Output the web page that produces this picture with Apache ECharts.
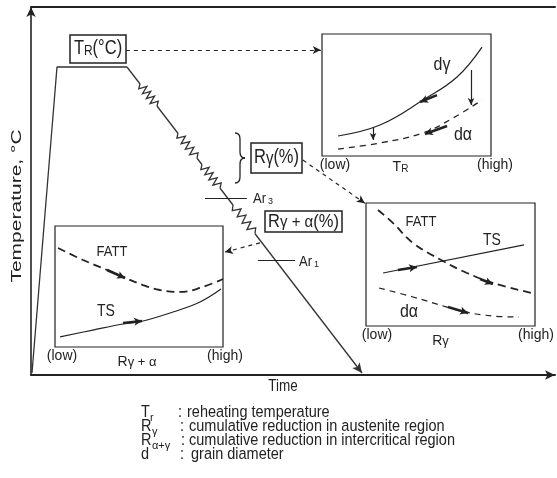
<!DOCTYPE html>
<html><head><meta charset="utf-8">
<script src="https://cdn.jsdelivr.net/npm/echarts@6/dist/echarts.min.js"></script>
<style>html,body{margin:0;padding:0;background:#fff}#c{width:557px;height:478px}</style>
</head><body><div id="c"></div>
<script>
// ---- main process diagram (time %, temperature %) ----
const heatPath = [[0.19, 0.54], [4.96, 83.7], [18.32, 83.7]];
const coolStart = [18.32, 83.7];
const coolEnd = [63.17, 0.54];
const passes = [
  [20.80, 79.08, 24.05, 73.10],
  [28.05, 65.76, 31.68, 58.97],
  [32.63, 57.20, 36.07, 50.82],
  [38.55, 46.20, 42.75, 38.45]
];
const ar3Line = [[33.2, 48.1], [41.2, 48.1]];
const ar1Line = [[43.3, 31.25], [50.4, 31.25]];
const connTR = [[18.1, 88.3], [55.3, 88.3]];
const connRg = [[51.9, 58.4], [63.7, 46.7]];
const connRga = [[43.7, 35.9], [37.0, 33.4]];

// ---- inset 1: grain size vs reheating temperature ----
const dGamma = [[0.95, 1.64], [3.43, 2.54], [5.98, 4.59], [7.99, 6.48], [9.47, 8.93]];
const dAlphaTR = [[0.95, 0.57], [3.43, 1.07], [5.98, 1.89], [7.75, 3.11], [9.47, 4.59]];
const inset1Arrows = [[[6.80, 4.99], [5.80, 4.43]], [[7.40, 2.46], [6.09, 1.80]]];
const inset1Drops = [[[8.82, 7.05], [8.82, 4.18]], [[3.02, 2.38], [3.02, 1.31]]];

// ---- inset 2: vs R gamma ----
const fattRg = [[0.71, 9.43], [1.60, 8.37], [2.78, 6.75], [4.56, 5.28], [5.98, 4.31], [7.51, 3.50], [9.82, 2.68]];
const tsRg = [[1.01, 4.31], [9.35, 6.59]];
const dAlphaRg = [[0.77, 3.09], [2.78, 2.36], [4.79, 1.54], [5.86, 1.14], [7.51, 0.81], [9.05, 0.73]];
const inset2Arrows = [[[1.89, 4.55], [3.02, 4.80]], [[6.75, 3.82], [7.51, 3.41]], [[4.85, 1.54], [6.04, 1.06]]];

// ---- inset 3: vs R gamma+alpha ----
const fattRga = [[0.18, 8.18], [1.67, 7.19], [3.10, 6.36], [4.05, 5.79], [5.24, 5.12], [6.25, 4.71], [7.44, 4.55], [8.63, 4.88], [10.0, 5.62]];
const tsRga = [[0.30, 0.83], [2.26, 1.40], [4.05, 1.90], [5.24, 2.15], [7.02, 2.89], [8.63, 3.72], [9.88, 4.79]];
const inset3Arrows = [[[3.10, 6.36], [4.17, 5.70]], [[4.05, 1.98], [5.18, 2.15]]];

const axisEnds = ['(low)', '(high)'];

const INK = '#222';
const FONT = 'Liberation Sans, Arial, Helvetica, sans-serif';

function seg(p1, p2, style, arrow, size) {
  return [
    { coord: p1, symbol: 'none', lineStyle: style },
    { coord: p2, symbol: arrow ? 'arrow' : 'none', symbolSize: size || [7, 9] }
  ];
}
const thick = { color: INK, width: 2.6, type: 'solid' };
const thin = { color: INK, width: 1.2, type: 'solid' };
const dashed = { color: INK, width: 1.2, type: [4, 4] };

function insetX(grid, lowPad, highPad, name, rich, nameGap, namePadR) {
  return {
    gridIndex: grid, type: 'value', min: 0, max: 10, interval: 10,
    axisLine: { show: false }, axisTick: { show: false }, splitLine: { show: false },
    axisLabel: {
      margin: 2, color: INK, fontFamily: FONT, fontSize: 14,
      formatter: v => v === 0 ? '{lo|' + axisEnds[0] + '}' : '{hi|' + axisEnds[1] + '}',
      rich: { lo: { padding: [0, 0, 0, lowPad], fontSize: 14, fontFamily: FONT, color: INK },
              hi: { padding: [0, 0, 0, highPad], fontSize: 14, fontFamily: FONT, color: INK } }
    },
    name: name, nameLocation: 'middle', nameGap: nameGap, nameMoveOverlap: false,
    nameTextStyle: { rich: rich, padding: [0, namePadR, 0, 0] }
  };
}
function insetY(grid) {
  return { gridIndex: grid, type: 'value', min: 0, max: 10, show: false };
}
const nameRich = {
  a: { fontSize: 14, fontFamily: FONT, color: INK, verticalAlign: 'bottom' },
  s: { fontSize: 10, fontFamily: FONT, color: INK, verticalAlign: 'bottom' },
  g: { fontSize: 13, fontFamily: FONT, color: INK, verticalAlign: 'bottom' }
};

function txt(x, y, text, size, align, sy) {
  return {
    type: 'text', x: x, y: y, z: 50, scaleY: sy || 1,
    style: { text: text, font: size + 'px ' + FONT, fill: INK,
             textAlign: align || 'center', textVerticalAlign: 'middle' }
  };
}
function richTxt(x, y, text, rich, sy) {
  return { type: 'text', x: x, y: y, z: 50, scaleY: sy || 1,
    style: { text: text, rich: rich, fill: INK, font: '15px ' + FONT,
             textAlign: 'center', textVerticalAlign: 'middle' } };
}
function bez(x1, y1, c1x, c1y, c2x, c2y, x2, y2) {
  return { type: 'bezierCurve', z: 40, shape: { x1: x1, y1: y1, cpx1: c1x, cpy1: c1y, cpx2: c2x, cpy2: c2y, x2: x2, y2: y2 },
    style: { stroke: INK, lineWidth: 1.3, fill: null } };
}
function ln(x1, y1, x2, y2) {
  return { type: 'line', z: 40, shape: { x1: x1, y1: y1, x2: x2, y2: y2 }, style: { stroke: INK, lineWidth: 1.3 } };
}
const boxRich = {
  a: { fontSize: 16.5, fontFamily: FONT, color: INK, verticalAlign: 'bottom' },
  b: { fontSize: 12, fontFamily: FONT, color: INK, verticalAlign: 'bottom', padding: [0, 0, 1, 0] },
  g: { fontSize: 15, fontFamily: FONT, color: INK, verticalAlign: 'bottom' }
};
const LS = 1.1; // vertical stretch of the legend text

const option = {
  animation: false,
  backgroundColor: '#fff',
  grid: [
    { left: 31, top: 7, width: 524, height: 368 },
    { left: 322, top: 34, width: 169, height: 122, show: true, borderColor: INK, borderWidth: 1.2, backgroundColor: 'transparent', z: 3 },
    { left: 366, top: 203, width: 169, height: 123, show: true, borderColor: INK, borderWidth: 1.2, backgroundColor: 'transparent', z: 3 },
    { left: 55, top: 226, width: 168, height: 121, show: true, borderColor: INK, borderWidth: 1.2, backgroundColor: 'transparent', z: 3 }
  ],
  xAxis: [
    { gridIndex: 0, type: 'value', min: 0, max: 100, position: 'bottom',
      axisLine: { show: true, onZero: false, symbol: ['none', 'arrow'], symbolSize: [7, 10], lineStyle: { color: INK, width: 2 } },
      axisTick: { show: false }, axisLabel: { show: false }, splitLine: { show: false } },
    { gridIndex: 0, type: 'value', min: 0, max: 100, position: 'top',
      axisLine: { show: true, onZero: false, lineStyle: { color: INK, width: 2 } },
      axisTick: { show: false }, axisLabel: { show: false }, splitLine: { show: false } },
    insetX(1, 26, 8, '{a|T}{s|R}', nameRich, 4, 12),
    insetX(2, 22, 2, '{a|R}{g|γ}', nameRich, 8, 20),
    insetX(3, 14, 4, '{a|R}{g|γ + α}', nameRich, 8, 4)
  ],
  yAxis: [
    { gridIndex: 0, type: 'value', min: 0, max: 100,
      axisLine: { show: true, onZero: false, symbol: ['none', 'arrow'], symbolSize: [7, 10], lineStyle: { color: INK, width: 1.6 } },
      axisTick: { show: false }, axisLabel: { show: false }, splitLine: { show: false } },
    insetY(1), insetY(2), insetY(3)
  ],
  series: [
    { type: 'line', xAxisIndex: 0, yAxisIndex: 0, data: heatPath, symbol: 'none', z: 5,
      lineStyle: { color: '#333', width: 1.3 },
      markLine: { silent: true, animation: false, label: { show: false }, symbol: ['none', 'none'],
        data: [
          seg(coolStart, coolEnd, { color: '#333', width: 1.3, type: 'solid' }, true, [7, 10]),
          seg(ar3Line[0], ar3Line[1], thin, false),
          seg(ar1Line[0], ar1Line[1], thin, false),
          seg(connTR[0], connTR[1], dashed, true, [6, 8]),
          seg(connRg[0], connRg[1], dashed, true, [6, 8]),
          seg(connRga[0], connRga[1], dashed, true, [6, 8])
        ] } },
    { type: 'custom', xAxisIndex: 0, yAxisIndex: 0, data: passes, z: 10, silent: true,
      encode: { x: [0, 2], y: [1, 3] },
      renderItem: function (params, api) {
        const a = api.coord([api.value(0), api.value(1)]);
        const b = api.coord([api.value(2), api.value(3)]);
        const dx = b[0] - a[0], dy = b[1] - a[1];
        const L = Math.hypot(dx, dy);
        const px = -dy / L, py = dx / L;
        const n = 9, amp = 4;
        const pts = [];
        for (let j = 0; j <= n; j++) {
          const f = j / n;
          const off = (j === 0 || j === n) ? 0 : ((j % 2) ? amp : -amp);
          pts.push([a[0] + dx * f + px * off, a[1] + dy * f + py * off]);
        }
        return { type: 'group', children: [
          { type: 'line', shape: { x1: a[0], y1: a[1], x2: b[0], y2: b[1] }, style: { stroke: '#fff', lineWidth: 4 } },
          { type: 'polyline', shape: { points: pts }, style: { stroke: '#333', lineWidth: 1.3, fill: null } }
        ] };
      } },
    // inset 1
    { type: 'line', xAxisIndex: 2, yAxisIndex: 1, data: dGamma, smooth: 0.4, symbol: 'none', z: 5,
      lineStyle: { color: INK, width: 1.2 },
      markLine: { silent: true, label: { show: false }, symbol: ['none', 'none'],
        data: [
          seg(inset1Arrows[0][0], inset1Arrows[0][1], thick, true, [6, 8]),
          seg(inset1Arrows[1][0], inset1Arrows[1][1], thick, true, [6, 8]),
          seg(inset1Drops[0][0], inset1Drops[0][1], thin, true, [5, 7]),
          seg(inset1Drops[1][0], inset1Drops[1][1], thin, true, [5, 7])
        ] } },
    { type: 'line', xAxisIndex: 2, yAxisIndex: 1, data: dAlphaTR, smooth: 0.4, symbol: 'none', z: 5,
      lineStyle: { color: INK, width: 1.3, type: [6, 5] } },
    // inset 2
    { type: 'line', xAxisIndex: 3, yAxisIndex: 2, data: fattRg, smooth: 0.4, symbol: 'none', z: 5,
      lineStyle: { color: INK, width: 1.8, type: [8, 5] },
      markLine: { silent: true, label: { show: false }, symbol: ['none', 'none'],
        data: inset2Arrows.map(p => seg(p[0], p[1], thick, true, [6, 8])) } },
    { type: 'line', xAxisIndex: 3, yAxisIndex: 2, data: tsRg, symbol: 'none', z: 5,
      lineStyle: { color: INK, width: 1.2 } },
    { type: 'line', xAxisIndex: 3, yAxisIndex: 2, data: dAlphaRg, smooth: 0.4, symbol: 'none', z: 5,
      lineStyle: { color: INK, width: 1.2, type: [6, 5] } },
    // inset 3
    { type: 'line', xAxisIndex: 4, yAxisIndex: 3, data: fattRga, smooth: 0.4, symbol: 'none', z: 5,
      lineStyle: { color: INK, width: 1.8, type: [8, 5] },
      markLine: { silent: true, label: { show: false }, symbol: ['none', 'none'],
        data: inset3Arrows.map(p => seg(p[0], p[1], thick, true, [6, 8])) } },
    { type: 'line', xAxisIndex: 4, yAxisIndex: 3, data: tsRga, smooth: 0.4, symbol: 'none', z: 5,
      lineStyle: { color: INK, width: 1.2 } }
  ],
  graphic: [
    // axis titles
    txt(283, 386, 'Time', 13.5, 'center', 1.25),
    { type: 'text', x: 17, y: 206, rotation: Math.PI / 2, scaleX: 1.5, z: 50,
      style: { text: 'Temperature, °C', font: '14px ' + FONT, fill: INK, textAlign: 'center', textVerticalAlign: 'middle' } },
    // annotation boxes
    { type: 'rect', shape: { x: 70, y: 35, width: 56, height: 28 }, style: { stroke: INK, lineWidth: 1.5, fill: '#fff' }, z: 40 },
    richTxt(98, 49, '{a|T}{b|R}{a|(°C)}', boxRich, 1.2),
    { type: 'rect', shape: { x: 251, y: 143, width: 51, height: 30 }, style: { stroke: INK, lineWidth: 1.5, fill: '#fff' }, z: 40 },
    richTxt(276.5, 158, '{a|R}{g|γ}{a|(%)}', boxRich, 1.2),
    { type: 'rect', shape: { x: 265, y: 211, width: 77, height: 21 }, style: { stroke: INK, lineWidth: 1.5, fill: '#fff' }, z: 40 },
    richTxt(303.5, 221.5, '{a|R}{g|γ + α}{a|(%)}', boxRich, 1.1),
    // brace
    bez(235, 133, 239, 133, 240, 135, 240, 139), ln(240, 139, 240, 152),
    bez(240, 152, 240, 156, 242, 158, 245, 158), bez(245, 158, 242, 158, 240, 160, 240, 164),
    ln(240, 164, 240, 177), bez(240, 177, 240, 181, 239, 183, 235, 183),
    // transformation temperatures
    txt(253, 199, 'Ar', 13, 'left', 1.15), txt(268, 202, '3', 9, 'left'),
    txt(299, 262, 'Ar', 13, 'left', 1.15), txt(314, 265, '1', 9, 'left'),
    // inset labels
    txt(442, 65, 'dγ', 16, 'center', 1.1), txt(463, 135, 'dα', 16, 'center', 1.1),
    txt(421, 222, 'FATT', 13, 'center', 1.15), txt(492, 241, 'TS', 14, 'center', 1.15), txt(409, 312, 'dα', 16, 'center', 1.1),
    txt(112, 252, 'FATT', 13, 'center', 1.15), txt(106, 312, 'TS', 14, 'center', 1.15),
    // legend
    txt(141, 413, 'T', 14.5, 'left', LS), txt(150, 418, 'r', 11, 'left'),
    txt(178, 413, ':', 14.5, 'left', LS), txt(187, 413, 'reheating temperature', 14.5, 'left', LS),
    txt(141, 427, 'R', 14.5, 'left', LS), txt(152, 432, 'γ', 11, 'left'),
    txt(180, 427, ':', 14.5, 'left', LS), txt(189, 427, 'cumulative reduction in austenite region', 14.5, 'left', LS),
    txt(141, 441, 'R', 14.5, 'left', LS), txt(152, 446, 'α+γ', 11, 'left'),
    txt(181, 441, ':', 14.5, 'left', LS), txt(189, 441, 'cumulative reduction in intercritical region', 14.5, 'left', LS),
    txt(141, 455, 'd', 14.5, 'left', LS),
    txt(180, 455, ':', 14.5, 'left', LS), txt(191, 455, 'grain diameter', 14.5, 'left', LS)
  ]
};
const chart = echarts.init(document.getElementById('c'), null, { renderer: 'canvas' });
chart.setOption(option);
</script></body></html>
